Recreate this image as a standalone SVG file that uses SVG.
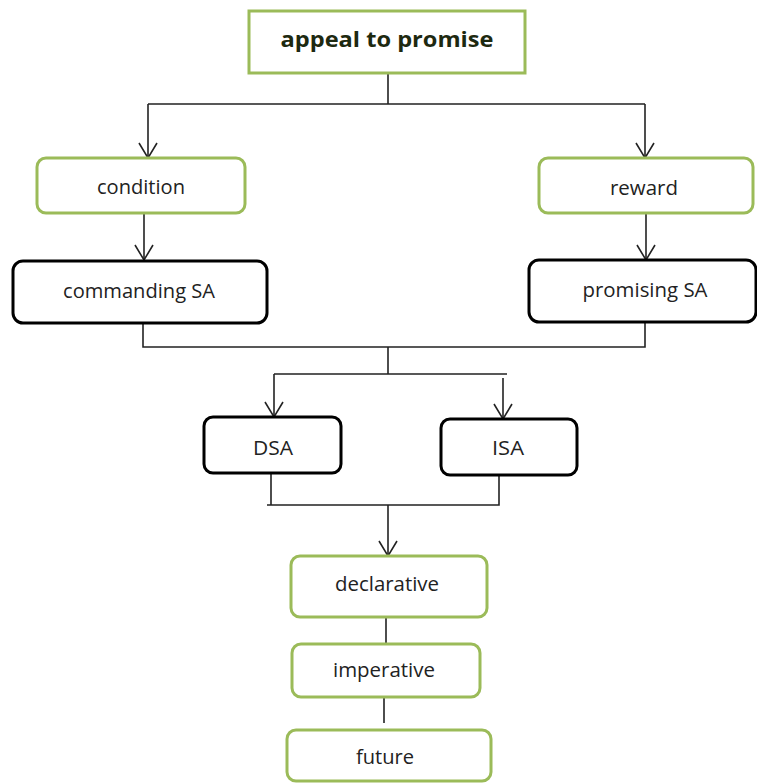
<svg xmlns="http://www.w3.org/2000/svg" width="757" height="783" viewBox="0 0 757 783">
<defs>
<marker id="arr" markerUnits="userSpaceOnUse" markerWidth="24" markerHeight="24" refX="16" refY="12" orient="auto" viewBox="0 0 24 24">
<path d="M1,3 L16,12 L1,21" fill="none" stroke="#222" stroke-width="1.6"/>
</marker>
<style>
.g{fill:#fff;stroke:#9bbb59;stroke-width:3}
.k{fill:#fff;stroke:#000;stroke-width:3}
.t{font-family:"Open Sans","Liberation Sans",sans-serif;font-size:19.5px;fill:#222;text-anchor:middle}
.b{font-family:"Open Sans","Liberation Sans",sans-serif;font-size:21px;font-weight:bold;fill:#1d2910;text-anchor:middle}
.c{fill:none;stroke:#222;stroke-width:1.6}
</style>
</defs>
<rect width="757" height="783" fill="#fff"/>
<g id="connectors">
<path class="c" d="M388,73 V104 M148,104 H645"/>
<path class="c" d="M148,104 V158" marker-end="url(#arr)"/>
<path class="c" d="M645,104 V158" marker-end="url(#arr)"/>
<path class="c" d="M144,213 V260" marker-end="url(#arr)"/>
<path class="c" d="M646,213 V260" marker-end="url(#arr)"/>
<path class="c" d="M143,323 V347 H645 V322 M388,347 V374 M274,374 H507"/>
<path class="c" d="M274,374 V417" marker-end="url(#arr)"/>
<path class="c" d="M503,378 V419" marker-end="url(#arr)"/>
<path class="c" d="M271,473 V505 M267,505 H499 V475"/>
<path class="c" d="M388,505 V556" marker-end="url(#arr)"/>
<path class="c" d="M386,617 V644 M384,697 V723"/>
</g>
<g id="n-appeal"><rect class="g" x="249" y="11" width="276" height="62"/><text class="b" x="387" y="47" textLength="213" lengthAdjust="spacingAndGlyphs">appeal to promise</text></g>
<g id="n-condition"><rect class="g" x="37" y="158" width="208" height="55" rx="9"/><text class="t" x="141" y="194" textLength="88" lengthAdjust="spacingAndGlyphs">condition</text></g>
<g id="n-reward"><rect class="g" x="539" y="158" width="214" height="55" rx="9"/><text class="t" x="644" y="195" textLength="68" lengthAdjust="spacingAndGlyphs">reward</text></g>
<g id="n-commanding"><rect class="k" x="13" y="261" width="254" height="62" rx="10"/><text class="t" x="139" y="298" textLength="152" lengthAdjust="spacingAndGlyphs">commanding SA</text></g>
<g id="n-promising"><rect class="k" x="529" y="260" width="227" height="62" rx="10"/><text class="t" x="645" y="297" textLength="125" lengthAdjust="spacingAndGlyphs">promising SA</text></g>
<g id="n-dsa"><rect class="k" x="204" y="417" width="137" height="56" rx="9"/><text class="t" x="273" y="455" textLength="40" lengthAdjust="spacingAndGlyphs">DSA</text></g>
<g id="n-isa"><rect class="k" x="441" y="419" width="136" height="56" rx="9"/><text class="t" x="508" y="455" textLength="32" lengthAdjust="spacingAndGlyphs">ISA</text></g>
<g id="n-declarative"><rect class="g" x="291" y="556" width="196" height="61" rx="9"/><text class="t" x="387" y="591" textLength="104" lengthAdjust="spacingAndGlyphs">declarative</text></g>
<g id="n-imperative"><rect class="g" x="292" y="644" width="188" height="53" rx="9"/><text class="t" x="384" y="677" textLength="102" lengthAdjust="spacingAndGlyphs">imperative</text></g>
<g id="n-future"><rect class="g" x="287" y="730" width="204" height="51" rx="9"/><text class="t" x="385" y="764" textLength="58" lengthAdjust="spacingAndGlyphs">future</text></g>
</svg>
